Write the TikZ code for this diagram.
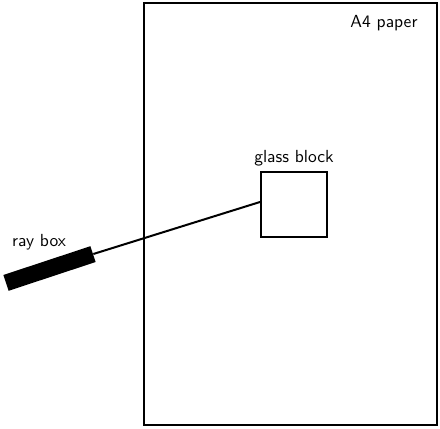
\documentclass[tikz,border=0pt]{standalone}
\begin{document}
\begin{tikzpicture}[x=0.6pt,y=-0.6pt,
  lbl/.style={font=\sffamily\fontsize{10.5}{12}\selectfont, inner sep=0pt},
  edge/.style={line width=1.2pt},
  block/.style={draw, line width=1.2pt, minimum width=39.6pt, minimum height=39pt, inner sep=0pt},
  raybox/.style={fill=black, draw=none, minimum width=55pt, minimum height=10pt, inner sep=0pt}]
\useasboundingbox (0,0) rectangle (440,429);
\coordinate (p1) at (144,3);
\coordinate (p2) at (437,425);
\draw[edge] (p1) rectangle (p2);
\node[block] (gb) at (294,204.5) {};
\node[raybox, rotate=18.3] (rb) at (49.5,268.5) {};
\draw[edge] (rb.east) -- ([yshift=1.5pt]gb.west);
\node[lbl] (tpaper) at (384,23) {A4 paper};
\node[lbl] (tglass) at (294,158) {glass block};
\node[lbl] (tray) at (39,242) {ray box};
\end{tikzpicture}
\end{document}
